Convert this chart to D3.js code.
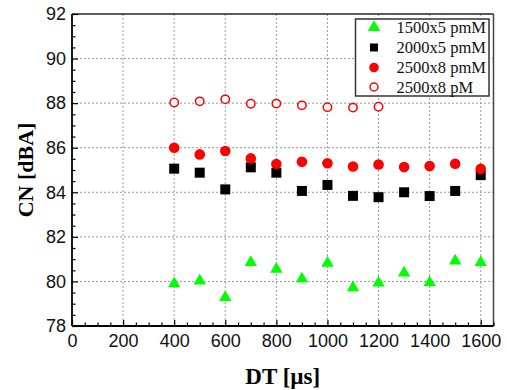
<!DOCTYPE html>
<html>
<head>
<meta charset="utf-8">
<script src="https://cdn.jsdelivr.net/npm/d3@7"></script>
<style>
  html, body { margin: 0; padding: 0; background: #fff; }
  svg { display: block; }
</style>
</head>
<body>
<svg id="chart" width="507" height="390"></svg>
<script>
// Delay time (µs) for every series
const dt = [400, 500, 600, 700, 800, 900, 1000, 1100, 1200, 1300, 1400, 1500, 1600];
const dtOpen = [400, 500, 600, 700, 800, 900, 1000, 1100, 1200];

// CN values (dBA)
const cn1500x5pmM = [79.9, 80.02, 79.28, 80.85, 80.55, 80.12, 80.82, 79.72, 79.93, 80.38, 79.95, 80.92, 80.85];
const cn2000x5pmM = [85.06, 84.88, 84.13, 85.12, 84.88, 84.06, 84.33, 83.84, 83.78, 84.0, 83.83, 84.06, 84.77];
const cn2500x8pmM = [86.0, 85.7, 85.85, 85.52, 85.27, 85.37, 85.3, 85.16, 85.25, 85.13, 85.18, 85.28, 85.05];
const cn2500x8pM = [88.03, 88.08, 88.17, 87.97, 87.98, 87.9, 87.82, 87.8, 87.84];

const legendLabels = ["1500x5 pmM", "2000x5 pmM", "2500x8 pmM", "2500x8 pM"];
const xTicks = [0, 200, 400, 600, 800, 1000, 1200, 1400, 1600];
const yTicks = [78, 80, 82, 84, 86, 88, 90, 92];

const svg = d3.select("#chart");
const pLeft = 72, pRight = 493.5, pTop = 14, pBottom = 326;

const x = d3.scaleLinear().domain([0, 1650]).range([pLeft, pRight]);
const y = d3.scaleLinear().domain([78, 92]).range([pBottom, pTop]);

// grid
const grid = svg.append("g").attr("stroke", "#9a9a9a").attr("stroke-width", 1).attr("stroke-dasharray", "2,2");
xTicks.filter(d => d > 0).forEach(d => {
  grid.append("line").attr("x1", x(d)).attr("x2", x(d)).attr("y1", pTop).attr("y2", pBottom);
});
yTicks.filter(d => d > 78 && d < 92).forEach(d => {
  grid.append("line").attr("x1", pLeft).attr("x2", pRight).attr("y1", y(d)).attr("y2", y(d));
});

// frame: top and right edges
svg.append("line").attr("x1", pLeft).attr("x2", pRight).attr("y1", pTop).attr("y2", pTop)
  .attr("stroke", "#222").attr("stroke-width", 1.5);
svg.append("line").attr("x1", pRight).attr("x2", pRight).attr("y1", pTop).attr("y2", pBottom)
  .attr("stroke", "#444").attr("stroke-width", 1.5);

// bottom axis with inward ticks
const xMinor = d3.range(0, 1651, 50).filter(d => d % 200 !== 0);
const gx = svg.append("g").attr("transform", `translate(0,${pBottom})`);
gx.call(d3.axisBottom(x).tickValues(xMinor).tickSize(-3.5).tickFormat(""));
gx.call(g => g.select(".domain").remove());
const gx2 = svg.append("g").attr("transform", `translate(0,${pBottom})`)
  .call(d3.axisBottom(x).tickValues(xTicks).tickSize(-6).tickPadding(8.5).tickFormat(d3.format("d")));
gx2.select(".domain").attr("stroke-width", 1.8).attr("d", `M${pLeft},0H${pRight}`);
gx2.selectAll("text").attr("font-family", "Liberation Sans, Arial, sans-serif")
  .attr("font-size", "18px").attr("fill", "#111").attr("dy", "0.71em");
[gx, gx2].forEach(g => g.selectAll(".tick line").attr("stroke", "#000").attr("stroke-width", 1.2));

// left axis with inward ticks
const yMinor = d3.range(78, 92.01, 0.5).filter(d => d % 2 !== 0);
const gy = svg.append("g").attr("transform", `translate(${pLeft},0)`);
gy.call(d3.axisLeft(y).tickValues(yMinor).tickSize(-3.5).tickFormat(""));
gy.call(g => g.select(".domain").remove());
const gy2 = svg.append("g").attr("transform", `translate(${pLeft},0)`)
  .call(d3.axisLeft(y).tickValues(yTicks).tickSize(-6).tickPadding(6).tickFormat(d3.format("d")));
gy2.select(".domain").attr("stroke-width", 1.8).attr("d", `M0,${pBottom}V${pTop}`);
gy2.selectAll("text").attr("font-family", "Liberation Sans, Arial, sans-serif")
  .attr("font-size", "18px").attr("fill", "#111");
[gy, gy2].forEach(g => g.selectAll(".tick line").attr("stroke", "#000").attr("stroke-width", 1.2));

// axis titles
svg.append("text").attr("x", x(825)).attr("y", 384).attr("text-anchor", "middle")
  .attr("font-family", "Liberation Serif, Times New Roman, serif").attr("font-weight", "bold")
  .attr("font-size", "23px").text("DT [µs]");
svg.append("text").attr("transform", `translate(33,${(pTop + pBottom) / 2}) rotate(-90)`)
  .attr("text-anchor", "middle")
  .attr("font-family", "Liberation Serif, Times New Roman, serif").attr("font-weight", "bold")
  .attr("font-size", "22px").text("CN [dBA]");

// markers
const triangle = d3.symbol().type(d3.symbolTriangle).size(66);
const square = d3.symbol().type(d3.symbolSquare).size(100);
const marks = svg.append("g");

marks.selectAll("path.tri").data(dt.map((d, i) => [d, cn1500x5pmM[i]])).join("path")
  .attr("class", "tri").attr("d", triangle)
  .attr("transform", d => `translate(${x(d[0])},${y(d[1])})`).attr("fill", "#00ff00");
marks.selectAll("path.sq").data(dt.map((d, i) => [d, cn2000x5pmM[i]])).join("path")
  .attr("class", "sq").attr("d", square)
  .attr("transform", d => `translate(${x(d[0])},${y(d[1])})`).attr("fill", "#000");
marks.selectAll("circle.fill").data(dt.map((d, i) => [d, cn2500x8pmM[i]])).join("circle")
  .attr("class", "fill").attr("cx", d => x(d[0])).attr("cy", d => y(d[1])).attr("r", 5.3)
  .attr("fill", "#ff0000");
marks.selectAll("circle.open").data(dtOpen.map((d, i) => [d, cn2500x8pM[i]])).join("circle")
  .attr("class", "open").attr("cx", d => x(d[0])).attr("cy", d => y(d[1])).attr("r", 4.2)
  .attr("fill", "#fff").attr("stroke", "#ff0000").attr("stroke-width", 1.5);

// legend
const lg = svg.append("g");
lg.append("rect").attr("x", 355.5).attr("y", 19).attr("width", 133.5).attr("height", 77)
  .attr("fill", "#fff").attr("stroke", "#333").attr("stroke-width", 1.5);
const rowY = [27.5, 47.5, 67.5, 87];
const sx = 374;
lg.append("path").attr("d", triangle).attr("transform", `translate(${sx},${rowY[0]})`).attr("fill", "#00ff00");
lg.append("path").attr("d", d3.symbol().type(d3.symbolSquare).size(64)).attr("transform", `translate(${sx},${rowY[1]})`).attr("fill", "#000");
lg.append("circle").attr("cx", sx).attr("cy", rowY[2]).attr("r", 4.8).attr("fill", "#ff0000");
lg.append("circle").attr("cx", sx).attr("cy", rowY[3]).attr("r", 4).attr("fill", "#fff")
  .attr("stroke", "#ff0000").attr("stroke-width", 1.5);
legendLabels.forEach((t, i) => {
  lg.append("text").attr("x", 396.5).attr("y", rowY[i] + 5.5)
    .attr("font-family", "Liberation Serif, Times New Roman, serif").attr("font-size", "16.5px")
    .attr("fill", "#111").text(t);
});
</script>
</body>
</html>
